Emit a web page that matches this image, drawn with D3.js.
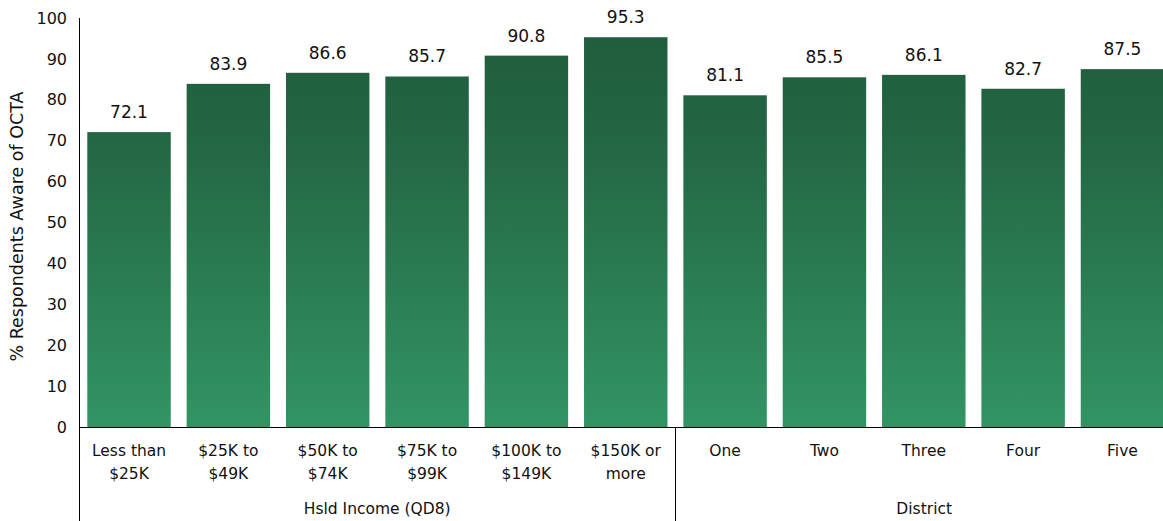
<!DOCTYPE html>
<html>
<head>
<meta charset="utf-8">
<script src="https://cdn.jsdelivr.net/npm/d3@7/dist/d3.min.js"></script>
<style>
  html, body { margin: 0; padding: 0; background: #fff; }
  svg { display: block; font-family: "DejaVu Sans", Verdana, sans-serif; }
</style>
</head>
<body>
<svg id="chart" width="1163" height="521"></svg>
<script>
// Awareness of OCTA by household income and by district
const categories = [
  "Less than\n$25K", "$25K to\n$49K", "$50K to\n$74K", "$75K to\n$99K",
  "$100K to\n$149K", "$150K or\nmore",
  "One", "Two", "Three", "Four", "Five"
];
const values = [72.1, 83.9, 86.6, 85.7, 90.8, 95.3, 81.1, 85.5, 86.1, 82.7, 87.5];
const groups = ["Hsld Income (QD8)", "District"];
const groupSizes = [6, 5];
const yTicks = [0, 10, 20, 30, 40, 50, 60, 70, 80, 90, 100];
const yTitle = "% Respondents Aware of OCTA";

const svg = d3.select("#chart");
const W = 1163, H = 521;
const plotLeft = 79, plotTop = 18, baseY = 427;

const x = d3.scaleBand()
  .domain(categories)
  .range([plotLeft, 1172.5])
  .paddingInner(0.16)
  .paddingOuter(0.0835);

const y = d3.scaleLinear().domain([0, 100]).range([baseY, plotTop]);

// vertical shading shared by all bars
const defs = svg.append("defs");
const grad = defs.append("linearGradient")
  .attr("id", "barFill")
  .attr("gradientUnits", "userSpaceOnUse")
  .attr("x1", 0).attr("x2", 0)
  .attr("y1", y(100)).attr("y2", y(0));
grad.append("stop").attr("offset", "0%").attr("stop-color", "#1f5c3d");
grad.append("stop").attr("offset", "30%").attr("stop-color", "#236643");
grad.append("stop").attr("offset", "100%").attr("stop-color", "#329463");

// bars
svg.append("g").selectAll("rect")
  .data(categories)
  .join("rect")
  .attr("x", d => x(d))
  .attr("y", (d, i) => y(values[i]))
  .attr("width", x.bandwidth())
  .attr("height", (d, i) => y(0) - y(values[i]))
  .attr("fill", "url(#barFill)");

// value labels
svg.append("g").selectAll("text")
  .data(categories)
  .join("text")
  .attr("x", d => x(d) + x.bandwidth() / 2)
  .attr("y", (d, i) => y(values[i]) - 14)
  .attr("text-anchor", "middle")
  .attr("font-size", 17)
  .attr("fill", "#111")
  .text((d, i) => values[i].toFixed(1));

// y axis
const yAxis = d3.axisLeft(y).tickValues(yTicks).tickSize(0).tickPadding(12);
const gy = svg.append("g").attr("transform", `translate(${plotLeft},0)`).call(yAxis);
gy.select(".domain").remove();
gy.selectAll("text").attr("font-size", 16).attr("fill", "#111")
  .attr("font-family", "DejaVu Sans, Verdana, sans-serif");
svg.append("line")
  .attr("x1", plotLeft + 0.5).attr("x2", plotLeft + 0.5)
  .attr("y1", plotTop).attr("y2", H)
  .attr("stroke", "#000").attr("stroke-width", 1);

svg.append("text")
  .attr("transform", `translate(23,${(plotTop + baseY) / 2 + 4}) rotate(-90)`)
  .attr("text-anchor", "middle")
  .attr("font-size", 17.5)
  .attr("fill", "#111")
  .text(yTitle);

// baseline
svg.append("line")
  .attr("x1", plotLeft).attr("x2", W)
  .attr("y1", baseY + 0.5).attr("y2", baseY + 0.5)
  .attr("stroke", "#000").attr("stroke-width", 1);

// category labels
const catG = svg.append("g");
categories.forEach(c => {
  const lines = c.split("\n");
  const t = catG.append("text")
    .attr("x", x(c) + x.bandwidth() / 2)
    .attr("y", 456)
    .attr("text-anchor", "middle")
    .attr("font-size", 15.5)
    .attr("fill", "#111");
  lines.forEach((ln, k) => {
    t.append("tspan")
      .attr("x", x(c) + x.bandwidth() / 2)
      .attr("dy", k === 0 ? 0 : 23)
      .text(ln);
  });
});

// group labels and separators
let start = 0;
const step = x.step();
groups.forEach((g, gi) => {
  const first = categories[start];
  const last = categories[start + groupSizes[gi] - 1];
  const gx0 = x(first) - step * x.paddingInner() / 2;
  const gx1 = Math.min(x(last) + x.bandwidth() + step * x.paddingInner() / 2, W);
  svg.append("text")
    .attr("x", gi === 0 ? (plotLeft + gx1) / 2 : (gx0 + W) / 2 + 5)
    .attr("y", 514)
    .attr("text-anchor", "middle")
    .attr("font-size", 15.5)
    .attr("fill", "#111")
    .text(g);
  if (gi > 0) {
    svg.append("line")
      .attr("x1", Math.round(gx0) + 0.5).attr("x2", Math.round(gx0) + 0.5)
      .attr("y1", baseY).attr("y2", H)
      .attr("stroke", "#000").attr("stroke-width", 1);
  }
  start += groupSizes[gi];
});
</script>
</body>
</html>
